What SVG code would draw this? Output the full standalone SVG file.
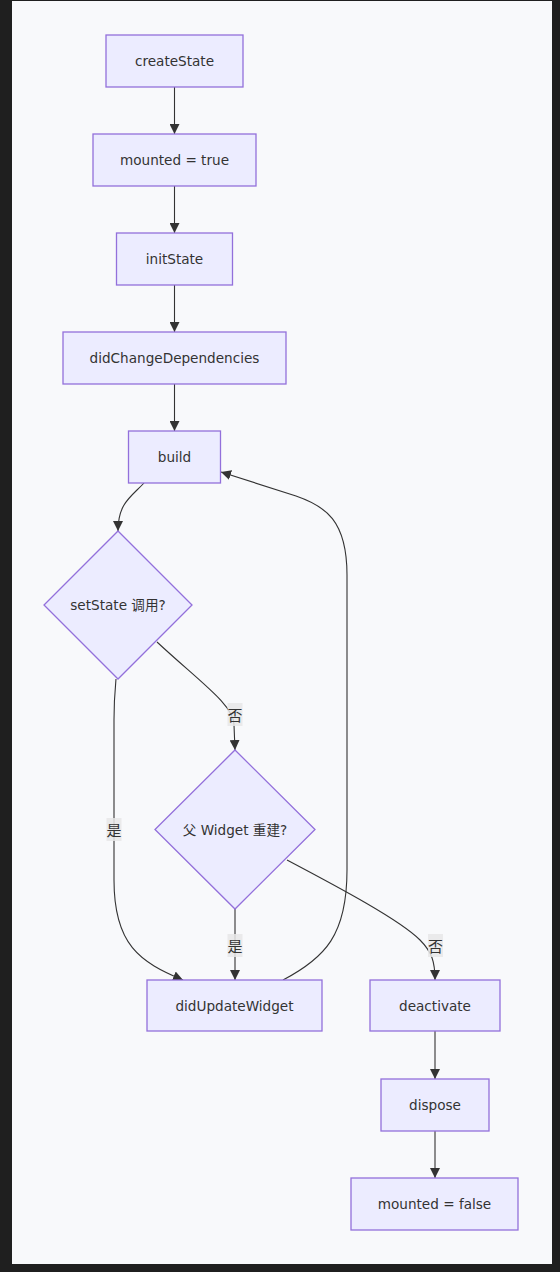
<svg xmlns="http://www.w3.org/2000/svg" width="560" height="1272" viewBox="0 0 560 1272">
<defs>
<style>
.node rect,.node polygon{fill:#ECECFF;stroke:#9370DB;stroke-width:1.3px}
.node text{font-family:"DejaVu Sans","Noto Sans CJK SC",sans-serif;font-size:13.6px;fill:#333;text-anchor:middle;dominant-baseline:central}
.edge{fill:none;stroke:#333;stroke-width:1.1px}
.lbl rect{fill:#e8e8e8;opacity:0.85}
.lbl text{font-family:"Noto Sans CJK SC","DejaVu Sans",sans-serif;font-size:15px;fill:#333;text-anchor:middle;dominant-baseline:central}
</style>
<marker id="arr" viewBox="0 0 10 10" refX="10" refY="5" markerWidth="10" markerHeight="10" markerUnits="userSpaceOnUse" orient="auto">
<path d="M0,0 L10,5 L0,10 z" fill="#333"/>
</marker>
</defs>
<rect x="0" y="0" width="560" height="1272" fill="#1f1f1f"/>
<rect x="12" y="1" width="540" height="1263" fill="#f8f9fb"/>

<g id="connectors">
<path class="edge" d="M174.5,87 L174.5,134" marker-end="url(#arr)"/>
<path class="edge" d="M174.5,186 L174.5,233" marker-end="url(#arr)"/>
<path class="edge" d="M174.5,285 L174.5,332" marker-end="url(#arr)"/>
<path class="edge" d="M174.5,384 L174.5,431" marker-end="url(#arr)"/>
<path class="edge" d="M144,483 C131,497 118,503 118,531" marker-end="url(#arr)"/>
<path class="edge" d="M116,679 C115,690 114,700 114,720 L114,880 C114,945 140,962 183,980" marker-end="url(#arr)"/>
<path class="edge" d="M157,642 C200,682 234,705 234,725 L235,750" marker-end="url(#arr)"/>
<path class="edge" d="M235,909 L235,980" marker-end="url(#arr)"/>
<path class="edge" d="M287,860 C340,888 400,920 420,940 C432,952 435,962 435,980" marker-end="url(#arr)"/>
<path class="edge" d="M283,980 C325,958 347,935 347,870 L347,575 C347,520 325,506 296,496 L221,472" marker-end="url(#arr)"/>
<path class="edge" d="M435,1031 L435,1079" marker-end="url(#arr)"/>
<path class="edge" d="M435,1131 L435,1178" marker-end="url(#arr)"/>
<g class="lbl"><rect x="227.5" y="703" width="15" height="23"/><text x="235" y="714.5">否</text></g>
<g class="lbl"><rect x="106.5" y="818" width="15" height="23"/><text x="114" y="829.5">是</text></g>
<g class="lbl"><rect x="227.5" y="934" width="15" height="23"/><text x="235" y="945.5">是</text></g>
<g class="lbl"><rect x="428" y="934" width="15" height="23"/><text x="435.5" y="945.5">否</text></g>
</g>

<g id="createState" class="node"><rect x="106" y="35" width="137" height="52"/><text x="174.5" y="61">createState</text></g>
<g id="mountedTrue" class="node"><rect x="93" y="134" width="163" height="52"/><text x="174.5" y="160">mounted = true</text></g>
<g id="initState" class="node"><rect x="116.5" y="233" width="116" height="52"/><text x="174.5" y="259">initState</text></g>
<g id="didChangeDependencies" class="node"><rect x="63" y="332" width="223" height="52"/><text x="174.5" y="358">didChangeDependencies</text></g>
<g id="build" class="node"><rect x="128.5" y="431" width="92" height="52"/><text x="174.5" y="457">build</text></g>
<g id="setStateCalled" class="node"><polygon points="118,531 192,605 118,679 44,605"/><text x="118" y="605">setState 调用?</text></g>
<g id="parentRebuild" class="node"><polygon points="235,750 315,829.5 235,909 155,829.5"/><text x="235" y="829.5">父 Widget 重建?</text></g>
<g id="didUpdateWidget" class="node"><rect x="147" y="980" width="175" height="51"/><text x="234.5" y="1005.5">didUpdateWidget</text></g>
<g id="deactivate" class="node"><rect x="370" y="980" width="130" height="51"/><text x="435" y="1005.5">deactivate</text></g>
<g id="dispose" class="node"><rect x="381" y="1079" width="108" height="52"/><text x="435" y="1105">dispose</text></g>
<g id="mountedFalse" class="node"><rect x="351" y="1178" width="167" height="52"/><text x="434.5" y="1204">mounted = false</text></g>
</svg>
